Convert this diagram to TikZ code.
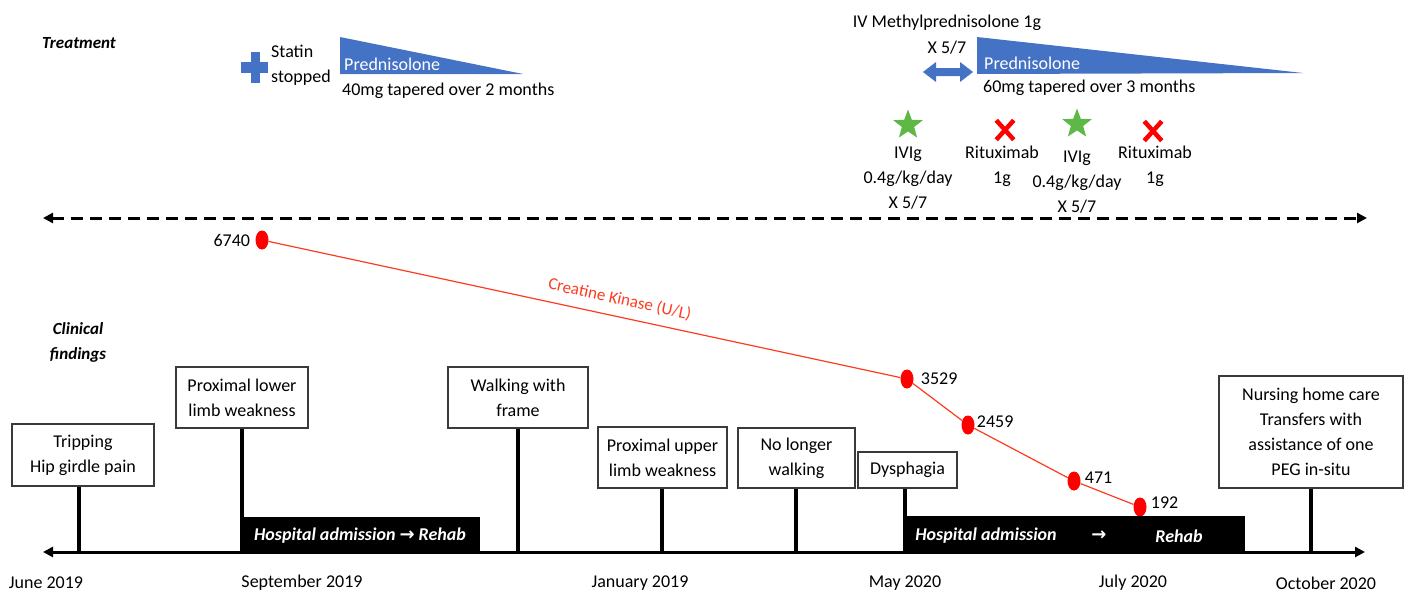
\documentclass[tikz,border=0pt]{standalone}
\usepackage{fontspec}
\setmainfont{Carlito}
\newfontfamily\arrowfont{DejaVu Sans}
\usetikzlibrary{calc, arrows.meta, positioning, shapes.geometric, shapes.misc}
\definecolor{rxblue}{HTML}{4472C4}
\definecolor{rxgreen}{HTML}{5DB845}
\definecolor{ckred}{HTML}{FF0000}
\definecolor{ckorange}{HTML}{FF3B1F}
\definecolor{boxgray}{HTML}{3A3A3A}

\begin{document}
\begin{tikzpicture}[
    x=1pt, y=-1pt,
    txt/.style={font=\fontsize{18}{25}\selectfont, align=center, inner sep=1pt},
    head/.style={font=\fontsize{17}{25}\selectfont\bfseries\itshape, align=center, inner sep=1pt},
    finding/.style={txt, draw=boxgray, line width=1.3pt, fill=white, inner sep=0pt},
    stem/.style={line width=3.5pt},
    hosp/.style={fill=black, inner sep=0pt},
    hosptxt/.style={font=\fontsize{18}{25}\selectfont\bfseries\itshape, text=white, inner sep=1pt},
    ckdot/.style={ellipse, fill=ckred, minimum width=13pt, minimum height=19pt, inner sep=0pt},
    ckval/.style={font=\fontsize{18}{20}\selectfont, inner sep=1pt},
    ivig/.style={star, star points=5, star point ratio=2.4, fill=rxgreen, minimum size=31pt, inner sep=0pt},
    ritux/.style={cross out, draw=ckred, line width=4.5pt, minimum width=13pt, minimum height=15pt, inner sep=0pt},
    divider/.style={line width=3pt, dash pattern=on 12pt off 7pt},
    axisline/.style={line width=3pt},
    >={Triangle[length=10pt, width=10pt]}
]

% 1. Page frame
\useasboundingbox (0,0) rectangle (1408,595);

% 2. Row headings
\node[head] (treat) at (79,43) {Treatment};
\node[head] (clin) at (78,342) {Clinical\\findings};

% 3. First course: statin stopped, oral prednisolone
\fill[rxblue] (251,52) rectangle (260,83);
\fill[rxblue] (241,62) rectangle (268,73);
\node[txt, align=left, anchor=west] (statin) at (270,65) {Statin\\stopped};
\fill[rxblue] (340,37) -- (523,74) -- (340,74) -- cycle;
\node[txt, text=white, anchor=west] (pred1) at (343,64) {Prednisolone};
\node[txt, anchor=west] (dose1) at (341,91) {40mg tapered over 2 months};

% 4. Second course: IV methylprednisolone then prednisolone
\node[txt] (ivmp) at (947,23) {IV Methylprednisolone 1g};
\node[txt] (ivmpx) at (947,48) {X 5/7};
\fill[rxblue] (923,72) -- (936,62) -- (936,68) -- (960,68) -- (960,62) -- (973,72)
              -- (960,82) -- (960,76) -- (936,76) -- (936,82) -- cycle;
\fill[rxblue] (977,37) -- (1303,73) -- (977,74) -- cycle;
\node[txt, text=white, anchor=west] (pred2) at (983,63) {Prednisolone};
\node[txt, anchor=west] (dose2) at (982,88) {60mg tapered over 3 months};

% 5. IVIg and rituximab doses
\node[ivig] (star1) at (908,125) {};
\node[txt] (ivig1) at (908,178) {IVIg\\0.4g/kg/day\\X 5/7};
\node[ritux] (cross1) at (1005,130) {};
\node[txt] (rit1) at (1002,166) {Rituximab\\1g};
\node[ivig] (star2) at (1077,124) {};
\node[txt] (ivig2) at (1077,182) {IVIg\\0.4g/kg/day\\X 5/7};
\node[ritux] (cross2) at (1153,131) {};
\node[txt] (rit2) at (1155,166) {Rituximab\\1g};

% 6. Dashed divider
\coordinate (divL) at (43,218);
\coordinate (divR) at (1367,218);
\draw[<->, divider] (divL) -- (divR);

% 7. Creatine kinase trend
\node[ckdot] (ck1) at (262,240) {};
\node[ckdot] (ck2) at (907,379) {};
\node[ckdot] (ck3) at (968,425) {};
\node[ckdot] (ck4) at (1074,481) {};
\node[ckdot] (ck5) at (1140,507) {};
\draw[ckorange, line width=1.2pt] (ck1)
    -- node[sloped, above=6pt, pos=0.55, font=\fontsize{17}{20}\selectfont, text=ckorange] (cklabel) {Creatine Kinase (U/L)}
    (ck2) -- (ck3) -- (ck4) -- (ck5);
\node[ckval, left=4pt of ck1] (ckv1) {6740};
\node[ckval, right=6pt of ck2] (ckv2) {3529};
\node[ckval, right=1pt of ck3, yshift=3pt] (ckv3) {2459};
\node[ckval, right=3pt of ck4, yshift=3pt] (ckv4) {471};
\node[ckval, right=3pt of ck5, yshift=4pt] (ckv5) {192};

% 8. Clinical findings and their stems
\node[finding, minimum width=142pt, minimum height=62pt] (trip) at (83,455) {Tripping\\Hip girdle pain};
\node[finding, minimum width=132pt, minimum height=61pt] (lowlimb) at (242,397.5) {Proximal lower\\limb weakness};
\node[finding, minimum width=140pt, minimum height=61pt] (frame) at (518,397.5) {Walking with\\frame};
\node[finding, minimum width=129pt, minimum height=61pt] (uplimb) at (662.5,457.5) {Proximal upper\\limb weakness};
\node[finding, minimum width=117pt, minimum height=60pt] (nowalk) at (796.5,458) {No longer\\walking};
\node[finding, minimum width=99pt, minimum height=36pt] (dysph) at (907.5,470) {Dysphagia};
\node[finding, minimum width=184pt, minimum height=112pt] (nursing) at (1311,432) {Nursing home care\\Transfers with\\assistance of one\\PEG in-situ};

\coordinate (tTrip) at (79,552);
\coordinate (tLow) at (242,552);
\coordinate (tFrame) at (518,552);
\coordinate (tUp) at (662,552);
\coordinate (tWalk) at (796,552);
\coordinate (tDys) at (905,552);
\coordinate (tNurse) at (1311,552);
\draw[stem] (trip.south -| tTrip) -- (tTrip);
\draw[stem] (lowlimb.south -| tLow) -- (tLow);
\draw[stem] (frame.south -| tFrame) -- (tFrame);
\draw[stem] (uplimb.south -| tUp) -- (tUp);
\draw[stem] (nowalk.south -| tWalk) -- (tWalk);
\draw[stem] (dysph.south -| tDys) -- (tDys);
\draw[stem] (nursing.south -| tNurse) -- (tNurse);

% 9. Hospital stays
\node[hosp, minimum width=240pt, minimum height=35pt] (stay1) at (360,534.5) {};
\node[hosptxt] (stay1txt) at (360,536) {Hospital admission {\arrowfont\bfseries →} Rehab};
\node[hosp, minimum width=342pt, minimum height=36pt] (stay2) at (1074,534) {};
\node[hosptxt] (stay2a) at (986,536) {Hospital admission};
\node[hosptxt] (stay2b) at (1099,536) {\arrowfont\bfseries →};
\node[hosptxt] (stay2c) at (1179,536) {Rehab};

% 10. Time axis
\coordinate (axL) at (43,552);
\coordinate (axR) at (1365,552);
\draw[<->, axisline] (axL) -- (axR);

\foreach \x/\d [count=\i] in {46/June 2019, 302/September 2019, 640/January 2019,
                              905/May 2020, 1133/July 2020, 1326/October 2020}
    \node[txt] (date\i) at (\x,583) {\d};

\end{tikzpicture}
\end{document}
